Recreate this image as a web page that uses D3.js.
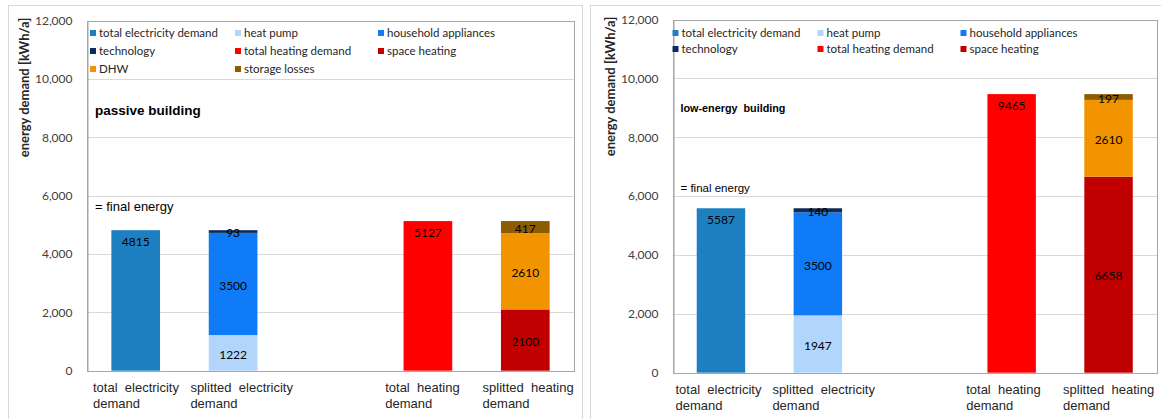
<!DOCTYPE html>
<html>
<head>
<meta charset="utf-8">
<script src="https://cdn.jsdelivr.net/npm/d3@7"></script>
<style>
  html, body { margin: 0; padding: 0; background: #fff; }
  svg { display: block; }
</style>
</head>
<body>
<svg id="chart" width="1161" height="419"></svg>
<script>
// Categories along the x axis (an empty slot separates electricity and heating)
const categories = ["totalElec", "splitElec", "gap", "totalHeat", "splitHeat"];
const categoryLabels = [
  ["total  electricity", "demand"],
  ["splitted  electricity", "demand"],
  [],
  ["total  heating", "demand"],
  ["splitted  heating", "demand"]
];

// Stacked series, each belonging to one category
const seriesNames = ["total electricity demand", "heat pump", "household appliances", "technology",
                     "total heating demand", "space heating", "DHW", "storage losses"];
const seriesCategory = ["totalElec", "splitElec", "splitElec", "splitElec",
                        "totalHeat", "splitHeat", "splitHeat", "splitHeat"];
const seriesColors = ["#1f80c1", "#b2d5fb", "#0f7bf6", "#0d2c5c",
                      "#ff0000", "#c00000", "#f29400", "#8e5c00"];

// Annual energy demand per series [kWh/a]
const passiveValues   = [4815, 1222, 3500,  93, 5127, 2100, 2610, 417];
const lowEnergyValues = [5587, 1947, 3500, 140, 9465, 6658, 2610, 197];

const yTicks = [0, 2000, 4000, 6000, 8000, 10000, 12000];

const svg = d3.select("#chart");
const fmt = d3.format(",");

function drawPanel(cfg) {
  const g = svg.append("g");

  // outer panel frame
  g.append("rect")
    .attr("x", cfg.frame[0] + 0.5).attr("y", 5.5)
    .attr("width", cfg.frame[1] - cfg.frame[0]).attr("height", 440)
    .attr("fill", "#fff").attr("stroke", "#d9d9d9").attr("stroke-width", 1);

  const x = d3.scaleBand().domain(categories)
    .range([cfg.left, cfg.right]).paddingInner(0.5).paddingOuter(0.25);
  const y = d3.scaleLinear().domain([0, 12000]).range([cfg.bottom, cfg.top]);

  // gridlines
  g.append("g").selectAll("line").data(yTicks.slice(1, -1)).join("line")
    .attr("x1", cfg.left).attr("x2", cfg.right)
    .attr("y1", d => Math.round(y(d)) + 0.5).attr("y2", d => Math.round(y(d)) + 0.5)
    .attr("stroke", "#d9d9d9");

  // plot area border
  g.append("rect")
    .attr("x", Math.round(cfg.left) + 0.5).attr("y", Math.round(cfg.top) + 0.5)
    .attr("width", Math.round(cfg.right) - Math.round(cfg.left))
    .attr("height", Math.round(cfg.bottom) - Math.round(cfg.top))
    .attr("fill", "none").attr("stroke", "#a6a6a6");

  // y axis
  const yAxis = g.append("g")
    .attr("transform", `translate(${Math.round(cfg.left) + 0.5},0)`)
    .call(d3.axisLeft(y).tickValues(yTicks).tickFormat(fmt).tickSize(0).tickPadding(15));
  yAxis.select(".domain").attr("stroke", "#a6a6a6");
  yAxis.selectAll("text")
    .attr("font-family", "Lato").attr("font-size", "12px").attr("fill", "#404040");

  // y axis title
  g.append("text")
    .attr("transform", `translate(${cfg.left - 58},${cfg.top + 67}) rotate(-90)`)
    .attr("text-anchor", "middle")
    .attr("font-family", "Lato").attr("font-weight", "bold").attr("font-size", "13px")
    .attr("fill", "#262626")
    .text("energy demand [kWh/a]");

  // stacked bars
  const rows = categories.map(c => {
    const r = { cat: c };
    seriesNames.forEach((s, i) => { r[s] = seriesCategory[i] === c ? cfg.values[i] : 0; });
    return r;
  });
  const stacked = d3.stack().keys(seriesNames)(rows);

  const layers = g.append("g").selectAll("g").data(stacked).join("g")
    .attr("fill", (d, i) => seriesColors[i]);
  layers.selectAll("rect").data(d => d.filter(p => p[1] > p[0])).join("rect")
    .attr("x", p => x(p.data.cat))
    .attr("width", x.bandwidth())
    .attr("y", p => y(p[1]))
    .attr("height", p => y(p[0]) - y(p[1]));

  // value labels
  const singles = new Set(categories.filter(c => seriesCategory.filter(s => s === c).length === 1));
  const labels = [];
  stacked.forEach(layer => layer.forEach(p => {
    if (p[1] > p[0]) labels.push({ cat: p.data.cat, v: p[1] - p[0], y0: p[0], y1: p[1] });
  }));
  g.append("g").selectAll("text").data(labels).join("text")
    .attr("x", d => x(d.cat) + x.bandwidth() / 2)
    .attr("y", d => singles.has(d.cat) ? y(d.y1) + 12 : (y(d.y0) + y(d.y1)) / 2 + 1.5)
    .attr("dy", "0.35em")
    .attr("text-anchor", "middle")
    .attr("font-family", "Lato").attr("font-size", "12px").attr("fill", "#000")
    .text(d => d.v);

  // category labels (two lines, left aligned under each bar)
  const catG = g.append("g").selectAll("text")
    .data(categories.map((c, i) => ({ c, lines: categoryLabels[i] })).filter(d => d.lines.length))
    .join("text")
    .attr("font-family", "Liberation Sans, Arial").attr("font-size", "13px")
    .attr("fill", "#262626")
    .style("white-space", "pre");
  catG.selectAll("tspan").data(d => d.lines.map(l => ({ l, c: d.c }))).join("tspan")
    .attr("x", d => x(d.c) - x.step() * 0.25 + cfg.catDx)
    .attr("y", (d, i) => cfg.bottom + 21 + i * 16)
    .text(d => d.l);

  // legend
  const legendItems = seriesNames.slice(0, cfg.legendCount);
  const colX = [cfg.left + cfg.legDx, cfg.left + cfg.legDx + 145, cfg.left + cfg.legDx + 288];
  const leg = g.append("g").selectAll("g").data(legendItems).join("g")
    .attr("transform", (d, i) => `translate(${colX[i % 3]},${33 + Math.floor(i / 3) * cfg.legendRow})`);
  leg.append("rect").attr("x", 0).attr("y", -3).attr("width", 6).attr("height", 6)
    .attr("fill", (d, i) => seriesColors[i]);
  leg.append("text").attr("x", 9).attr("dy", "0.35em")
    .attr("font-family", "Lato").attr("font-size", "11.5px").attr("fill", "#262626")
    .text(d => d);

  // building title and note
  g.append("text")
    .attr("x", cfg.left + 8).attr("y", cfg.titleY)
    .attr("font-family", "Liberation Sans, Arial").attr("font-weight", "bold")
    .attr("font-size", cfg.titleSize).attr("fill", "#000")
    .style("white-space", "pre")
    .text(cfg.title);
  g.append("text")
    .attr("x", cfg.left + 8).attr("y", cfg.noteY)
    .attr("dy", "0.35em")
    .attr("font-family", "Liberation Sans, Arial")
    .attr("font-size", cfg.noteSize).attr("fill", "#000")
    .text("= final energy");
}

drawPanel({
  frame: [8, 582], left: 87, right: 574, top: 20.5, bottom: 370.7,
  values: passiveValues, legendCount: 8, legendRow: 18, legDx: 3, catDx: 6,
  title: "passive building", titleY: 115, titleSize: "13.5px",
  noteY: 206, noteSize: "13px"
});

drawPanel({
  frame: [590, 1200], left: 672.5, right: 1157, top: 19.5, bottom: 372.7,
  values: lowEnergyValues, legendCount: 6, legendRow: 16, legDx: 0, catDx: 3,
  title: "low-energy  building", titleY: 112, titleSize: "10.8px",
  noteY: 188, noteSize: "11.5px"
});
</script>
</body>
</html>
